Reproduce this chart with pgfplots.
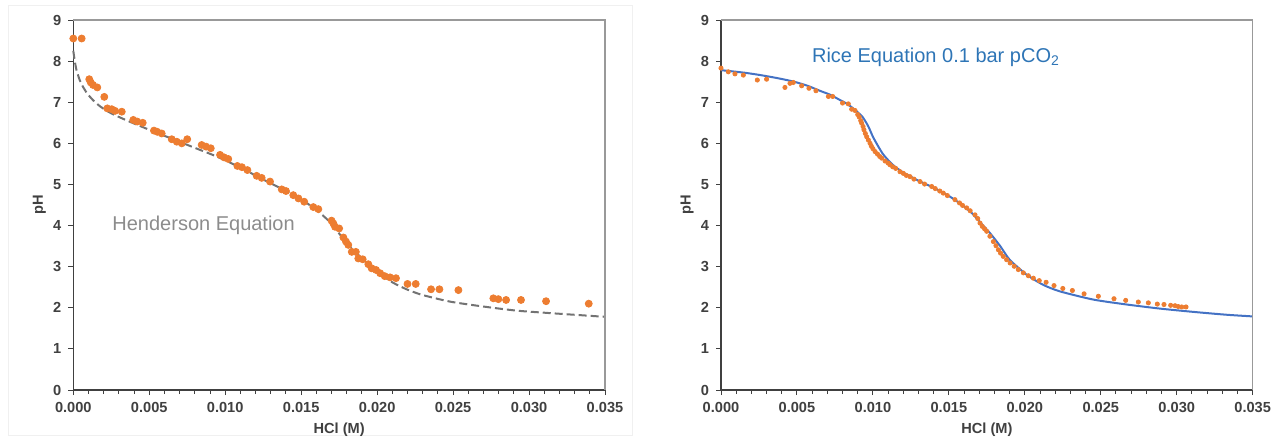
\documentclass[border=0pt]{standalone}
\usepackage{fontspec}
\setmainfont{Liberation Sans}
\usepackage{pgfplots}
\pgfplotsset{compat=1.18}
\definecolor{exorange}{HTML}{ED7D31}
\definecolor{exblue}{HTML}{4472C4}
\definecolor{txtblue}{HTML}{2E75B6}
\definecolor{axdark}{HTML}{404040}

\pgfplotsset{
  phpanel/.style={
    scale only axis,
    width=265.85pt, height=185pt,
    xmin=0, xmax=0.035, ymin=0, ymax=9,
    xtick={0,0.005,...,0.035}, minor x tick num=4,
    ytick={0,1,...,9},
    scaled x ticks=false,
    xticklabel style={/pgf/number format/.cd, fixed, fixed zerofill, precision=3, assume math mode=true},
    yticklabel style={/pgf/number format/assume math mode=true},
    tick label style={font=\fontsize{7.3}{9}\selectfont\bfseries, text=axdark},
    label style={font=\fontsize{7.3}{9}\selectfont\bfseries, text=axdark},
    axis x line*=bottom, axis y line*=left,
    axis line style={draw=axdark, line width=0.75pt, -},
    tick style={draw=axdark, line width=0.5pt},
    tick align=outside,
    major tick length=2.5pt, minor tick length=2pt,
    xlabel={HCl (M)}, ylabel={pH},
    x label style={at={(axis description cs:0.5,0)}, yshift=-20pt, anchor=center},
    y label style={at={(axis description cs:0,0.5)}, yshift=17pt, anchor=center},
    clip=false,
  }
}

\begin{document}
\begin{tikzpicture}
\path (0,0) rectangle (639.5pt,219pt);
\draw[gray!12, line width=0.4pt] (4pt,1.5pt) rectangle (316pt,216.5pt);

%% left: Henderson
\begin{axis}[phpanel, at={(36.65pt,24pt)}]
\addplot[color=gray!90!black, line width=1pt, dash pattern=on 4pt off 2pt, smooth, tension=0.4] coordinates {
  (0.0000,8.25) (0.0001,8.00) (0.0002,7.80) (0.0004,7.56) (0.0006,7.40)
  (0.0009,7.22) (0.0013,7.05) (0.0018,6.89) (0.0025,6.73) (0.0035,6.56)
  (0.0050,6.33) (0.0065,6.11) (0.0080,5.89) (0.0095,5.67) (0.0110,5.41)
  (0.0125,5.12) (0.0140,4.84) (0.0150,4.64) (0.0160,4.38) (0.0168,4.12)
  (0.0172,3.95) (0.0176,3.76) (0.0180,3.58) (0.0185,3.38) (0.0190,3.20)
  (0.0195,3.03) (0.0200,2.88) (0.0210,2.62) (0.0220,2.44) (0.0230,2.31)
  (0.0248,2.15) (0.0270,2.03) (0.0292,1.93) (0.0314,1.87) (0.0350,1.78)
};
\addplot[only marks, mark=*, mark size=1.75pt, color=exorange] coordinates {
  (0.0000,8.55) (0.00055,8.55) (0.00105,7.56) (0.00115,7.48) (0.0013,7.42)
  (0.00158,7.36) (0.00204,7.13) (0.00224,6.85) (0.00253,6.83) (0.00275,6.79)
  (0.00319,6.77) (0.00395,6.57) (0.00421,6.53) (0.00457,6.50) (0.00531,6.31)
  (0.00553,6.28) (0.00582,6.24) (0.00648,6.10) (0.00681,6.04) (0.00714,6.00)
  (0.0075,6.10) (0.00845,5.96) (0.00874,5.92) (0.00905,5.88) (0.00966,5.72)
  (0.00992,5.66) (0.0102,5.62) (0.0108,5.45) (0.0111,5.42) (0.01146,5.35)
  (0.01207,5.21) (0.0124,5.16) (0.01295,5.07) (0.01372,4.88) (0.0140,4.84)
  (0.01448,4.74) (0.01482,4.66) (0.0152,4.58) (0.0158,4.45) (0.01613,4.40)
  (0.0170,4.12) (0.01712,4.05) (0.01723,3.97) (0.0175,3.93) (0.01778,3.71)
  (0.01795,3.61) (0.0181,3.53) (0.01833,3.36) (0.0186,3.36) (0.01876,3.20)
  (0.01905,3.18) (0.01942,3.06) (0.01964,2.96) (0.01993,2.92) (0.0202,2.84)
  (0.0205,2.77) (0.02085,2.74) (0.02124,2.72) (0.0220,2.58) (0.02254,2.58)
  (0.02355,2.45) (0.0241,2.45) (0.02535,2.43) (0.02765,2.23) (0.02798,2.21)
  (0.02849,2.19) (0.02947,2.19) (0.03112,2.16) (0.03393,2.10)
};
\node[anchor=west, inner sep=0pt, text=gray!90, font=\fontsize{10}{12}\selectfont] at (axis cs:0.00255,4.01) {Henderson Equation};
\draw[gray!80, line width=0.75pt] (rel axis cs:0,1) -- (rel axis cs:1,1) -- (rel axis cs:1,0);
\end{axis}

%% right: Rice
\begin{axis}[phpanel, at={(360.5pt,24pt)}]
\addplot[color=exblue, line width=1pt, smooth, tension=0.4] coordinates {
  (0.0000,7.78) (0.0015,7.72) (0.0026,7.66) (0.0038,7.58) (0.0048,7.50)
  (0.0057,7.40) (0.0065,7.28) (0.0072,7.18) (0.0078,7.06) (0.0083,6.96)
  (0.0087,6.85) (0.0093,6.65) (0.0097,6.41) (0.0100,6.16) (0.01036,5.92)
  (0.0107,5.72) (0.0113,5.48) (0.0120,5.29) (0.0130,5.09) (0.0140,4.92)
  (0.0150,4.72) (0.0158,4.52) (0.0165,4.31) (0.0171,4.06) (0.0177,3.82)
  (0.0184,3.49) (0.0190,3.17) (0.0201,2.81) (0.0212,2.56) (0.0223,2.40)
  (0.0245,2.20) (0.0267,2.08) (0.0289,1.98) (0.0311,1.90) (0.0333,1.83)
  (0.0350,1.79)
};
\addplot[only marks, mark=*, mark size=1.05pt, color=exorange] coordinates {
  (0.0000,7.83) (0.00048,7.74) (0.00092,7.69) (0.00147,7.66) (0.00239,7.54)
  (0.0030,7.56) (0.00421,7.36) (0.00454,7.46) (0.00476,7.48) (0.00531,7.40)
  (0.00579,7.34) (0.00625,7.28) (0.00707,7.14) (0.00735,7.14) (0.0080,6.98)
  (0.00838,6.96) (0.0086,6.83) (0.00882,6.80) (0.0090,6.70) (0.0091,6.64)
  (0.0092,6.55) (0.00926,6.49) (0.00935,6.41) (0.00941,6.33) (0.0095,6.24)
  (0.00959,6.16) (0.0097,6.08) (0.00981,6.00) (0.0099,5.93) (0.0100,5.87)
  (0.01014,5.80) (0.0103,5.74) (0.01045,5.68) (0.01058,5.64) (0.0108,5.57)
  (0.0110,5.52) (0.01112,5.48) (0.0113,5.43) (0.0115,5.39) (0.01178,5.31)
  (0.0120,5.27) (0.0122,5.22) (0.01244,5.19) (0.0127,5.13) (0.0131,5.07)
  (0.0134,5.01) (0.01387,4.95) (0.0141,4.90) (0.0144,4.84) (0.01463,4.79)
  (0.0149,4.73) (0.0154,4.63) (0.0157,4.55) (0.0159,4.49) (0.01617,4.43)
  (0.0164,4.36) (0.01672,4.26) (0.0169,4.17) (0.01705,4.06) (0.0172,3.98)
  (0.01735,3.92) (0.01749,3.86) (0.0177,3.74) (0.01793,3.61) (0.0181,3.51)
  (0.01826,3.41) (0.0184,3.33) (0.01858,3.25) (0.0188,3.17) (0.01903,3.09)
  (0.0193,3.01) (0.01957,2.93) (0.0199,2.85) (0.02023,2.78) (0.02056,2.72)
  (0.02095,2.66) (0.0214,2.62) (0.02192,2.54) (0.0225,2.47) (0.02313,2.42)
  (0.0239,2.34) (0.02484,2.28) (0.02587,2.22) (0.02664,2.18) (0.02747,2.14)
  (0.02813,2.12) (0.02872,2.09) (0.02916,2.08) (0.0296,2.06) (0.02989,2.05)
  (0.0301,2.03) (0.03033,2.02) (0.03061,2.02)
};
\node[anchor=west, inner sep=0pt, text=txtblue, font=\fontsize{10}{12}\selectfont] at (axis cs:0.00597,8.10) {Rice Equation 0.1 bar pCO\textsubscript{2}};
\draw[gray!80, line width=0.75pt] (rel axis cs:0,1) -- (rel axis cs:1,1) -- (rel axis cs:1,0);
\end{axis}
\end{tikzpicture}
\end{document}
